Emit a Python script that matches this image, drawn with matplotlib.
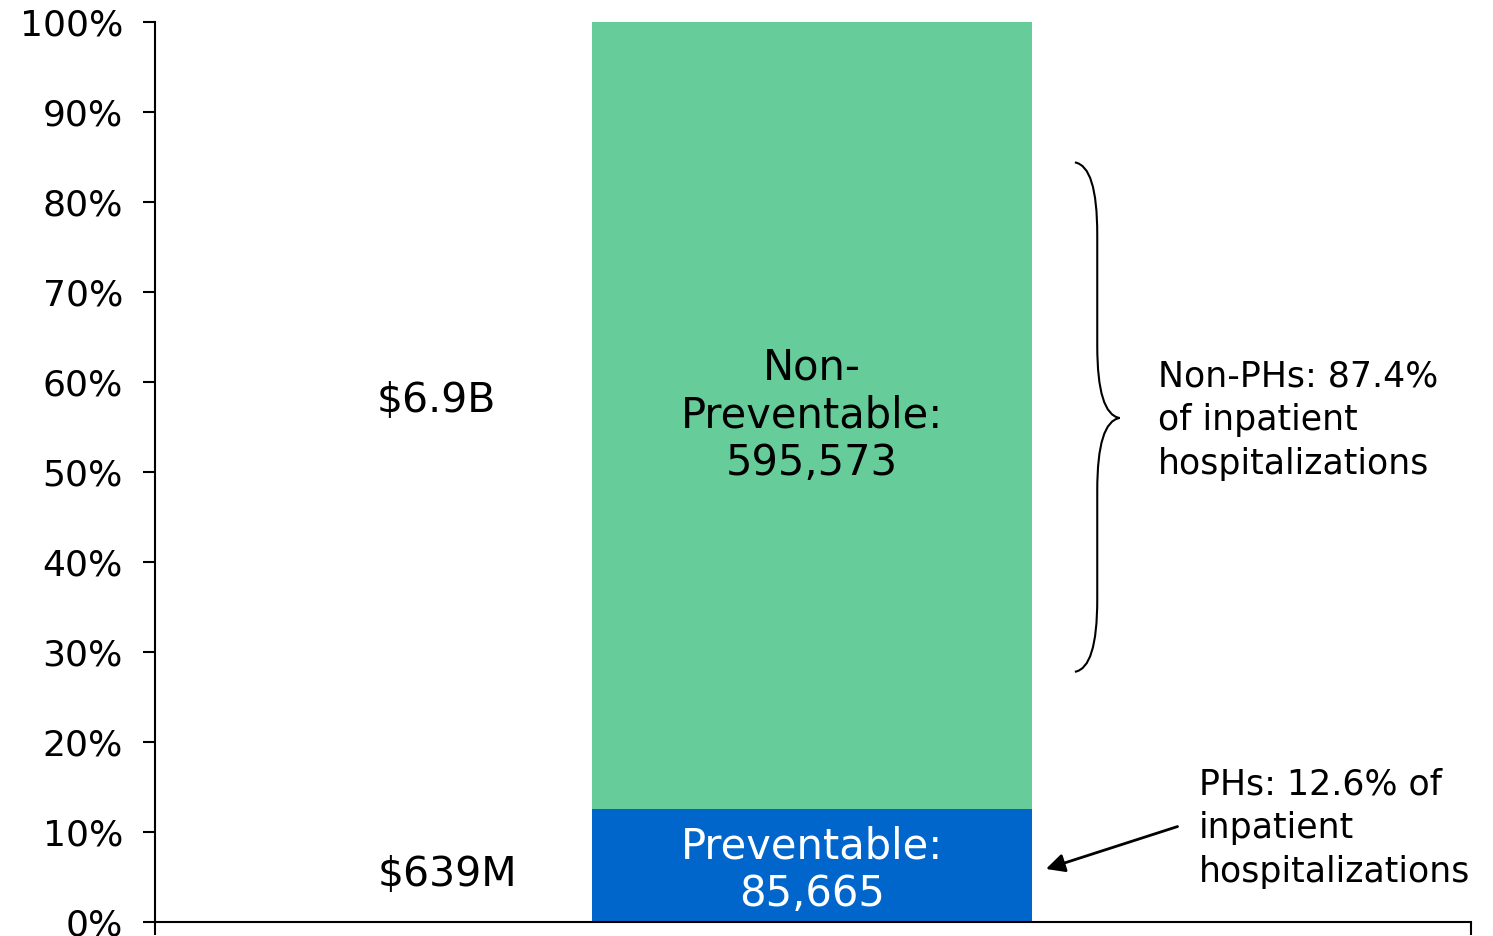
import numpy as np
import matplotlib.pyplot as plt
from matplotlib.path import Path
from matplotlib.patches import PathPatch

plt.rc('font', **{'family': 'sans-serif', 'sans-serif': ['DejaVu Sans']})

# hospitalization counts and costs
segments = ['Preventable', 'Non-\nPreventable']
counts = [85665, 595573]
costs = ['$639M', '$6.9B']
seg_colors = ['#0066CC', '#66CC99']
text_colors = ['white', 'black']
shares = [12.6, 87.4]

total = sum(counts)
frac = [c / total for c in counts]

fig = plt.figure(figsize=(14.93, 9.36), dpi=100)
ax = fig.add_axes([155 / 1493, 14 / 936, 1316 / 1493, 900 / 936])

bar_x = 0.4992
bar_w = 0.334
bottom = 0.0
for name, n, f, col, tc, cost in zip(segments, counts, frac, seg_colors, text_colors, costs):
    ax.bar(bar_x, f, width=bar_w, bottom=bottom, color=col, edgecolor='none')
    mid = bottom + f / 2
    ax.text(bar_x, mid - (0.005 if bottom == 0 else 0.0), '{}:\n{:,}'.format(name, n),
            ha='center', va='center', color=tc, fontsize=30, linespacing=1.17)
    ax.text(0.214 if bottom > 0 else 0.222, mid + (0.016 if bottom > 0 else -0.011),
            cost, ha='center', va='center', fontsize=29.5)
    bottom += f

ax.set_xlim(0, 1)
ax.set_ylim(0, 1)
ax.set_yticks(np.arange(0, 1.01, 0.1))
ax.set_yticklabels(['{:d}%'.format(v) for v in range(0, 101, 10)], fontsize=26)
ax.set_xticks([0, 1])
ax.set_xticklabels([])
ax.tick_params(axis='both', direction='out', length=9, width=1.5, pad=14)
for side in ['top', 'right']:
    ax.spines[side].set_visible(False)
for side in ['left', 'bottom']:
    ax.spines[side].set_linewidth(1.5)

# curly brace spanning the non-preventable share
x0, xv, xt = 0.699, 0.716, 0.733
y_top, y_bot, y_tip = 0.844, 0.278, 0.56
verts = [(x0, y_top), (xv, y_top - 0.004), (xv, y_top - 0.08),
         (xv, y_tip + 0.08), (xv, y_tip + 0.004), (xt, y_tip),
         (xv, y_tip - 0.004), (xv, y_tip - 0.08),
         (xv, y_bot + 0.08), (xv, y_bot + 0.004), (x0, y_bot)]
codes = [Path.MOVETO, Path.CURVE3, Path.CURVE3,
         Path.LINETO, Path.CURVE3, Path.CURVE3,
         Path.CURVE3, Path.CURVE3,
         Path.LINETO, Path.CURVE3, Path.CURVE3]
ax.add_patch(PathPatch(Path(verts, codes), fill=False, lw=1.5, color='black',
                       clip_on=False))

ax.text(0.762, 0.558, 'Non-PHs: {}%\nof inpatient\nhospitalizations'.format(shares[1]),
        ha='left', va='center', fontsize=25, linespacing=1.36)

ax.annotate('', xy=(0.675, 0.058), xytext=(0.779, 0.107),
            arrowprops=dict(arrowstyle='-|>', color='black', lw=2,
                            mutation_scale=28))
ax.text(0.793, 0.104, 'PHs: {}% of\ninpatient\nhospitalizations'.format(shares[0]),
        ha='left', va='center', fontsize=25, linespacing=1.36, clip_on=False)

plt.savefig('out.png', dpi=100)
